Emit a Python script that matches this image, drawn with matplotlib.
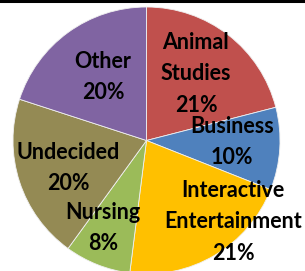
import matplotlib
matplotlib.use("Agg")
import matplotlib.pyplot as plt

# pie data, clockwise from 12 o'clock
labels = ["Animal\nStudies", "Business", "Interactive\nEntertainment", "Nursing", "Undecided", "Other"]
shares = [21, 10, 21, 8, 20, 20]
colors = ["#C0504D", "#4F81BD", "#FFC000", "#9BBB59", "#948A54", "#8064A2"]

# label block centres in pixel coords (y from top)
label_xy = [(196, 74), (232, 142), (233, 222), (103, 228), (68, 168), (103, 77)]

W, H = 305, 271
fig = plt.figure(figsize=(W / 100, H / 100), dpi=100)
ax = fig.add_axes([0, 0, 1, 1])

cx, cy, r = 146.5, H - 140.5, 133.5
ax.pie(shares, colors=colors, startangle=90, counterclock=False,
       center=(cx, cy), radius=r, frame=True,
       wedgeprops=dict(edgecolor="#f0f0f0", linewidth=0.6))
ax.set_xlim(0, W)
ax.set_ylim(0, H)
ax.set_aspect("auto")
ax.axis("off")

for lab, val, (x, y) in zip(labels, shares, label_xy):
    ax.text(x, H - y, f"{lab}\n{val}%", ha="center", va="center",
            fontsize=15.5, fontweight="bold", family="Lato",
            linespacing=1.6, color="black")

# thin dark rule along the top edge
ax.axhline(H - 1, color="black", linewidth=2.2)

fig.savefig("out.png", dpi=100)
